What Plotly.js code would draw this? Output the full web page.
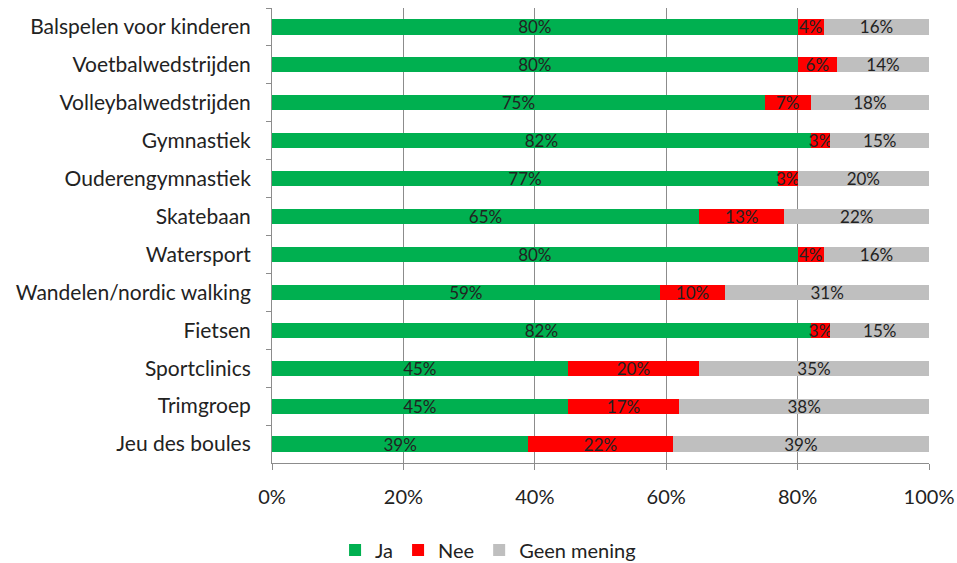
<!DOCTYPE html>
<html><head><meta charset="utf-8">
<script src="https://cdn.plot.ly/plotly-3.0.1.min.js"></script>
<style>html,body{margin:0;padding:0;background:#fff}#chart{width:957px;height:563px}</style>
</head><body><div id="chart"></div>
<script>
const categories = ["Balspelen voor kinderen","Voetbalwedstrijden","Volleybalwedstrijden","Gymnastiek","Ouderengymnastiek","Skatebaan","Watersport","Wandelen/nordic walking","Fietsen","Sportclinics","Trimgroep","Jeu des boules"];
const ja = [80,80,75,82,77,65,80,59,82,45,45,39];
const nee = [4,6,7,3,3,13,4,10,3,20,17,22];
const geen = [16,14,18,15,20,22,16,31,15,35,38,39];
const tickVals = [0,20,40,60,80,100];
const tickText = ["0%","20%","40%","60%","80%","100%"];

const font = "Lato, 'Open Sans', sans-serif";
function tr(name, vals, color){
  return {type:'bar', orientation:'h', name:name, y:categories, x:vals,
    marker:{color:color}, width:0.4,
    text:vals.map(v=>v+'%'), textposition:'inside', insidetextanchor:'middle',
    constraintext:'none', cliponaxis:false,
    textfont:{family:font, size:17, color:'#222'}, hoverinfo:'x+y'};
}
const data = [tr('Ja', ja, '#00b050'), tr('Nee', nee, '#ff0000'), tr('Geen mening', geen, '#bfbfbf')];
const layout = {
  width:957, height:563, barmode:'stack', showlegend:true,
  margin:{l:272, r:28, t:8, b:100, autoexpand:false},
  paper_bgcolor:'#fff', plot_bgcolor:'#fff',
  font:{family:font, size:20, color:'#222'},
  xaxis:{range:[0,100], tickvals:tickVals, ticktext:tickText, showgrid:true, gridcolor:'#8c8c8c', gridwidth:1,
    showline:true, linecolor:'#8c8c8c', ticks:'outside', ticklen:6, tickcolor:'#8c8c8c', zeroline:false,
    ticklabelstandoff:10, tickfont:{size:20, family:font}, automargin:false},
  yaxis:{autorange:'reversed', showline:true, linecolor:'#8c8c8c', ticks:'outside', tickson:'boundaries', ticklen:5,
    tickcolor:'#8c8c8c', ticklabelstandoff:16, automargin:false,
    tickfont:{size:21, family:font}},
  legend:{orientation:'h', xref:'container', yref:'container', x:0.51, xanchor:'center', y:0.023, yanchor:'middle',
    font:{size:20, family:font}, traceorder:'normal', itemwidth:30}
};
Plotly.newPlot('chart', data, layout, {displayModeBar:false});
</script></body></html>
